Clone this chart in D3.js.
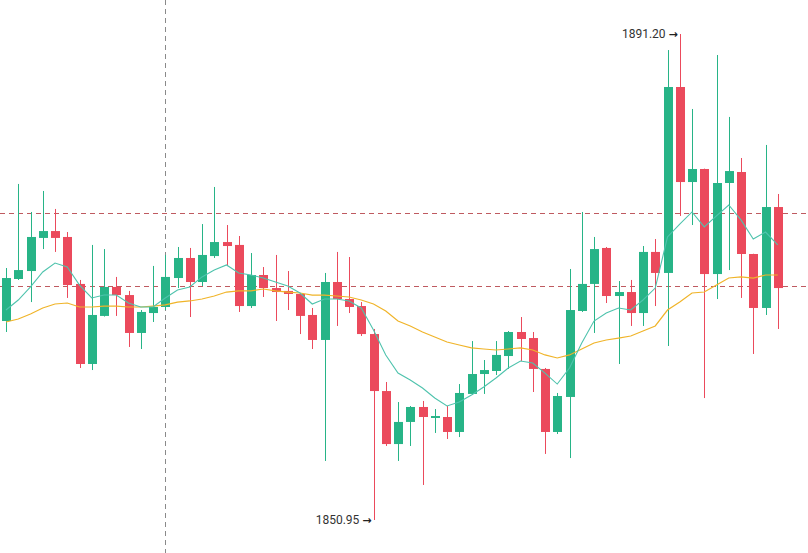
<!DOCTYPE html>
<html>
<head>
<meta charset="utf-8">
<script src="https://cdn.jsdelivr.net/npm/d3@7/dist/d3.min.js"></script>
<style>
  html, body { margin: 0; padding: 0; background: #ffffff; }
  svg { display: block; }
</style>
</head>
<body>
<svg id="chart" width="808" height="553"></svg>
<script>
// ---- data ----
const openP  = [1867.43,1870.91,1871.57,1874.31,1874.88,1874.39,1870.50,1863.87,1867.85,1870.25,1869.58,1866.44,1868.09,1868.59,1870.99,1872.65,1870.66,1872.81,1873.97,1873.73,1868.67,1871.24,1870.16,1869.92,1869.67,1867.93,1865.86,1870.66,1869.25,1868.67,1866.35,1861.63,1857.24,1859.07,1860.31,1859.40,1859.48,1858.24,1861.39,1863.04,1863.29,1864.53,1866.52,1866.02,1863.46,1858.24,1861.14,1868.26,1870.50,1873.48,1869.50,1869.83,1868.09,1873.15,1871.41,1886.81,1878.94,1880.02,1871.32,1878.86,1879.77,1872.98,1868.51,1876.87];
const highP  = [1871.82,1878.78,1876.46,1878.20,1876.71,1874.80,1870.83,1873.73,1873.39,1871.08,1869.92,1868.34,1871.99,1872.90,1873.56,1873.48,1875.46,1878.53,1875.38,1874.47,1873.06,1871.90,1872.90,1871.57,1869.75,1868.51,1871.41,1873.15,1872.73,1869.00,1866.77,1862.38,1860.72,1860.39,1860.81,1860.14,1860.39,1862.21,1865.77,1864.20,1865.77,1866.60,1867.76,1866.52,1863.54,1861.47,1871.74,1876.46,1874.39,1873.56,1870.74,1870.83,1873.64,1874.22,1889.87,1891.20,1884.99,1880.05,1889.46,1884.33,1880.93,1873.00,1882.01,1877.95];
const lowP   = [1866.52,1870.83,1869.00,1873.39,1873.15,1869.34,1863.54,1863.37,1867.80,1867.85,1865.28,1865.11,1867.35,1868.34,1870.16,1867.76,1870.33,1872.65,1872.07,1868.18,1868.51,1869.42,1867.43,1868.34,1866.35,1865.11,1855.84,1867.02,1868.09,1866.19,1850.95,1857.08,1855.84,1857.08,1853.85,1858.16,1857.66,1857.82,1861.30,1861.39,1862.96,1863.46,1864.12,1861.55,1856.42,1858.07,1856.08,1868.18,1866.44,1868.92,1863.87,1867.02,1867.02,1868.67,1865.36,1876.13,1875.38,1861.05,1869.25,1871.65,1869.34,1864.70,1867.93,1866.77];
const closeP = [1870.99,1871.65,1874.39,1874.88,1874.31,1870.41,1863.87,1867.93,1870.25,1869.58,1866.44,1868.18,1868.59,1871.08,1872.65,1870.66,1872.90,1873.97,1873.64,1868.67,1871.24,1870.16,1869.83,1869.67,1867.85,1865.86,1870.66,1869.25,1868.59,1866.35,1861.63,1857.24,1859.07,1860.31,1859.48,1859.56,1858.24,1861.47,1863.04,1863.37,1864.62,1866.52,1865.94,1863.46,1858.24,1861.22,1868.34,1870.50,1873.39,1869.50,1869.83,1868.09,1873.15,1871.41,1886.81,1878.94,1880.02,1871.32,1878.86,1879.85,1872.98,1868.51,1876.87,1870.16];
const maFast = [1868.34,1869.17,1870.25,1871.49,1872.23,1871.90,1870.41,1869.34,1869.58,1869.58,1868.92,1868.59,1868.59,1869.34,1870.00,1870.25,1871.08,1871.65,1872.07,1871.41,1871.24,1870.99,1870.66,1870.33,1869.75,1868.84,1869.25,1869.25,1869.09,1868.51,1866.69,1864.62,1863.12,1862.55,1861.88,1861.05,1860.39,1860.72,1861.30,1861.97,1862.71,1863.54,1864.12,1863.95,1863.12,1862.21,1863.54,1865.61,1867.43,1868.09,1868.51,1868.34,1869.17,1870.16,1874.39,1875.46,1876.46,1875.22,1876.13,1877.04,1875.80,1874.22,1874.80,1873.73];
const maSlow = [1867.35,1867.60,1868.01,1868.51,1868.84,1868.92,1868.59,1868.59,1868.67,1868.67,1868.59,1868.59,1868.67,1868.76,1869.00,1869.09,1869.25,1869.50,1869.83,1869.92,1869.92,1870.08,1869.92,1869.83,1869.75,1869.58,1869.58,1869.50,1869.42,1869.17,1868.84,1868.26,1867.43,1867.02,1866.52,1866.11,1865.69,1865.44,1865.20,1865.11,1865.03,1865.11,1865.20,1865.03,1864.62,1864.37,1864.62,1865.11,1865.61,1865.86,1866.02,1866.19,1866.60,1867.02,1868.34,1869.00,1869.75,1869.83,1870.41,1870.99,1871.08,1870.99,1871.24,1871.24];
const refLevels = [1876.38, 1870.30];
const crosshairIndex = 13;
const maxLabel = "1891.20";
const minLabel = "1850.95";

// ---- layout ----
const W = 808, H = 553;
const svg = d3.select("#chart");
const idx = d3.range(openP.length);

const x = d3.scaleBand().domain(idx).range([-0.125, -0.125 + 12.25 * openP.length]).paddingInner(0.27).paddingOuter(0.135);
const y = d3.scaleLinear().domain([1850.95, 1891.20]).range([520, 34]);
const cx = i => x(i) + x.bandwidth() / 2;

const UP = "#27b487", DOWN = "#eb4a5c";

// crosshair vertical
svg.append("line")
  .attr("x1", Math.round(cx(crosshairIndex)) + 0.5).attr("x2", Math.round(cx(crosshairIndex)) + 0.5)
  .attr("y1", 0).attr("y2", H)
  .attr("stroke", "#8a8a8a").attr("stroke-width", 1).attr("stroke-dasharray", "5,4");

// reference horizontal dashed lines
svg.selectAll("line.ref").data(refLevels).enter().append("line")
  .attr("class", "ref")
  .attr("x1", 0).attr("x2", W)
  .attr("y1", d => Math.round(y(d)) + 0.5).attr("y2", d => Math.round(y(d)) + 0.5)
  .attr("stroke", "#bf5a60").attr("stroke-width", 1).attr("stroke-dasharray", "5,4");

// candles
const g = svg.append("g");
const candles = g.selectAll("g.c").data(idx).enter().append("g").attr("class", "c");
candles.append("line")
  .attr("x1", i => Math.round(cx(i)) + 0.5).attr("x2", i => Math.round(cx(i)) + 0.5)
  .attr("y1", i => y(highP[i])).attr("y2", i => y(lowP[i]))
  .attr("stroke", i => closeP[i] >= openP[i] ? UP : DOWN).attr("stroke-width", 1);
candles.append("rect")
  .attr("x", i => Math.round(cx(i)) + 0.5 - 4.5)
  .attr("width", 9)
  .attr("y", i => y(Math.max(openP[i], closeP[i])))
  .attr("height", i => Math.max(1.5, Math.abs(y(openP[i]) - y(closeP[i]))))
  .attr("fill", i => closeP[i] >= openP[i] ? UP : DOWN);

// moving averages
const lineGen = arr => d3.line().x((d, i) => cx(i)).y(d => y(d))(arr);
svg.append("path").attr("d", lineGen(maSlow)).attr("fill", "none")
  .attr("stroke", "#f0b429").attr("stroke-width", 1.2);
svg.append("path").attr("d", lineGen(maFast)).attr("fill", "none")
  .attr("stroke", "#4fc3ad").attr("stroke-width", 1.1);

// max / min annotations
const hiIdx = highP.indexOf(d3.max(highP));
const loIdx = lowP.indexOf(d3.min(lowP));
function annotate(i, v, label) {
  const t = svg.append("text")
    .attr("x", cx(i) - 2).attr("y", y(v))
    .attr("dy", "0.35em").attr("text-anchor", "end")
    .attr("font-family", "Roboto, 'Noto Sans', sans-serif").attr("font-size", 12)
    .attr("fill", "#333");
  t.append("tspan").text(label + " ");
  t.append("tspan").attr("font-family", "'DejaVu Sans', sans-serif")
    .attr("font-size", 11).attr("font-weight", "bold").attr("fill", "#222").text("\u2192");
}
annotate(hiIdx, highP[hiIdx], maxLabel);
annotate(loIdx, lowP[loIdx], minLabel);
</script>
</body>
</html>
